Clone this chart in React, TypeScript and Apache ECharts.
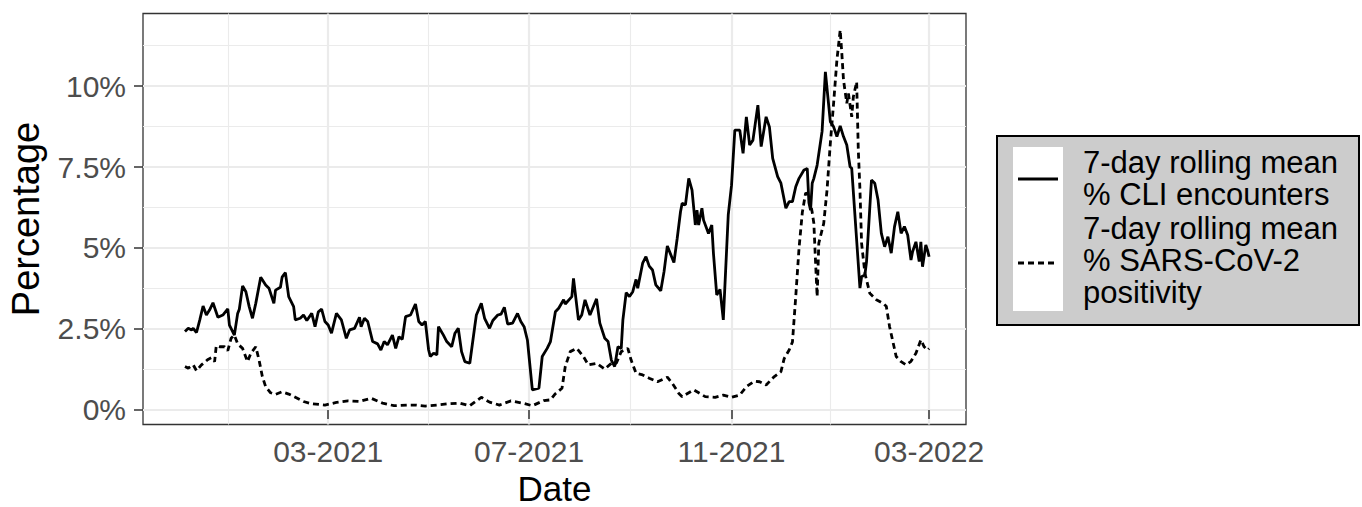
import React, { useEffect, useRef } from "react";
import * as echarts from "echarts";

// ---- Data ----
const cliDates = [
  "2020-12-04","2020-12-06","2020-12-08","2020-12-09","2020-12-11","2020-12-13","2020-12-15","2020-12-17","2020-12-19","2020-12-21",
  "2020-12-24","2020-12-27","2020-12-30","2020-12-31","2021-01-03","2021-01-05","2021-01-06","2021-01-08","2021-01-10","2021-01-12",
  "2021-01-14","2021-01-16","2021-01-19","2021-01-22","2021-01-24","2021-01-27","2021-01-28","2021-01-31","2021-02-01","2021-02-03",
  "2021-02-05","2021-02-08","2021-02-09","2021-02-12","2021-02-14","2021-02-16","2021-02-19","2021-02-21","2021-02-23","2021-02-25",
  "2021-02-27","2021-03-01","2021-03-03","2021-03-06","2021-03-09","2021-03-12","2021-03-14","2021-03-17","2021-03-20","2021-03-21",
  "2021-03-23","2021-03-25","2021-03-28","2021-03-31","2021-04-02","2021-04-04","2021-04-06","2021-04-09","2021-04-11","2021-04-13",
  "2021-04-15","2021-04-17","2021-04-20","2021-04-23","2021-04-25","2021-04-27","2021-04-29","2021-05-01","2021-05-02","2021-05-04",
  "2021-05-06","2021-05-07","2021-05-10","2021-05-12","2021-05-15","2021-05-17","2021-05-19","2021-05-21","2021-05-23","2021-05-26",
  "2021-05-29","2021-05-30","2021-06-02","2021-06-04","2021-06-07","2021-06-09","2021-06-12","2021-06-14","2021-06-16","2021-06-18",
  "2021-06-21","2021-06-24","2021-06-26","2021-06-28","2021-06-30","2021-07-03","2021-07-07","2021-07-09","2021-07-12","2021-07-14",
  "2021-07-17","2021-07-19","2021-07-22","2021-07-23","2021-07-27","2021-07-28","2021-07-31","2021-08-02","2021-08-04","2021-08-07",
  "2021-08-11","2021-08-13","2021-08-16","2021-08-18","2021-08-20","2021-08-22","2021-08-24","2021-08-26","2021-08-27","2021-08-29",
  "2021-08-31","2021-09-02","2021-09-04","2021-09-05","2021-09-08","2021-09-10","2021-09-12","2021-09-14","2021-09-16","2021-09-19",
  "2021-09-21","2021-09-23","2021-09-27","2021-09-29","2021-10-01","2021-10-02","2021-10-04","2021-10-06","2021-10-08","2021-10-10",
  "2021-10-11","2021-10-12","2021-10-14","2021-10-15","2021-10-18","2021-10-20","2021-10-21","2021-10-23","2021-10-25","2021-10-27",
  "2021-10-30","2021-11-01","2021-11-03","2021-11-06","2021-11-08","2021-11-10","2021-11-12","2021-11-14","2021-11-17","2021-11-19",
  "2021-11-22","2021-11-24","2021-11-26","2021-11-29","2021-12-01","2021-12-04","2021-12-06","2021-12-08","2021-12-10","2021-12-12",
  "2021-12-15","2021-12-17","2021-12-18","2021-12-19","2021-12-20","2021-12-21","2021-12-23","2021-12-26","2021-12-28","2021-12-31",
  "2022-01-02","2022-01-04","2022-01-06","2022-01-08","2022-01-10","2022-01-12","2022-01-13","2022-01-18","2022-01-19","2022-01-21",
  "2022-01-22","2022-01-25","2022-01-27","2022-01-29","2022-01-31","2022-02-02","2022-02-04","2022-02-06","2022-02-08","2022-02-10",
  "2022-02-12","2022-02-14","2022-02-16","2022-02-18","2022-02-19","2022-02-21","2022-02-23","2022-02-24","2022-02-25","2022-02-27",
  "2022-02-28","2022-03-01"
];
const cliValues = [
  2.42,2.52,2.47,2.52,2.39,2.78,3.21,2.93,3.09,3.31,
  2.86,2.93,3.12,2.62,2.31,2.98,3.11,3.83,3.65,3.19,
  2.83,3.29,4.10,3.86,3.76,3.29,3.70,3.79,4.10,4.24,
  3.50,3.19,2.78,2.83,2.93,2.76,2.98,2.57,3.03,3.11,
  2.73,2.62,2.37,2.98,2.78,2.21,2.47,2.52,2.86,2.57,
  2.83,2.73,2.11,2.04,1.85,2.11,2.01,2.31,1.90,2.26,
  2.18,2.88,2.93,3.27,2.73,2.62,2.73,1.85,1.65,1.75,
  1.70,2.57,2.31,2.11,1.95,2.37,2.52,1.80,1.49,1.44,
  2.57,2.93,3.29,2.83,2.52,2.76,2.93,2.96,3.17,2.65,
  2.68,2.98,2.73,2.57,2.16,0.62,0.67,1.65,1.90,2.11,
  3.03,3.14,3.40,3.27,3.50,4.06,2.78,2.93,3.40,2.93,
  3.43,2.68,2.21,2.11,1.54,1.34,1.95,1.90,2.78,3.62,
  3.50,3.65,4.03,3.76,4.53,4.73,4.44,4.32,3.86,3.68,
  4.27,5.06,4.55,5.30,6.12,6.38,6.33,7.15,6.79,5.71,
  6.17,5.71,6.23,5.86,5.45,5.71,4.84,3.55,3.72,2.78,
  6.02,6.94,8.64,8.64,7.92,9.05,8.18,8.33,9.41,8.13,
  9.05,8.74,7.77,7.20,7.00,6.23,6.43,6.43,6.89,7.15,
  7.41,7.45,6.40,6.17,7.00,7.15,7.56,8.60,10.44,8.90,
  8.74,8.44,8.77,8.44,8.18,7.51,7.46,3.76,4.11,4.17,
  4.58,7.10,7.00,6.48,5.45,5.04,5.35,4.84,5.66,6.12,
  5.45,5.66,5.40,4.63,4.89,5.19,4.58,5.19,4.42,5.09,
  4.94,4.73
];

const posDates = [
  "2020-12-04","2020-12-06","2020-12-09","2020-12-11","2020-12-14","2020-12-18","2020-12-20","2020-12-22","2020-12-23","2020-12-25",
  "2020-12-28","2020-12-30","2021-01-01","2021-01-03","2021-01-05","2021-01-08","2021-01-11","2021-01-13","2021-01-16","2021-01-18",
  "2021-01-20","2021-01-22","2021-01-25","2021-01-28","2021-02-01","2021-02-05","2021-02-09","2021-02-14","2021-02-19","2021-02-27",
  "2021-03-06","2021-03-13","2021-03-20","2021-03-27","2021-04-03","2021-04-10","2021-04-18","2021-04-23","2021-04-29","2021-05-06",
  "2021-05-13","2021-05-20","2021-05-26","2021-06-02","2021-06-07","2021-06-13","2021-06-20","2021-06-27","2021-07-03","2021-07-10",
  "2021-07-14","2021-07-17","2021-07-21","2021-07-23","2021-07-26","2021-07-30","2021-08-03","2021-08-06","2021-08-11","2021-08-16",
  "2021-08-20","2021-08-23","2021-08-26","2021-08-30","2021-09-01","2021-09-04","2021-09-08","2021-09-12","2021-09-17","2021-09-23",
  "2021-09-26","2021-09-30","2021-10-02","2021-10-09","2021-10-16","2021-10-22","2021-10-27","2021-11-01","2021-11-06","2021-11-10",
  "2021-11-15","2021-11-18","2021-11-22","2021-11-27","2021-12-01","2021-12-03","2021-12-06","2021-12-08","2021-12-10","2021-12-12",
  "2021-12-14","2021-12-16","2021-12-18","2021-12-20","2021-12-21","2021-12-22","2021-12-23","2021-12-24","2021-12-27","2021-12-29",
  "2021-12-31","2022-01-02","2022-01-04","2022-01-06","2022-01-07","2022-01-08","2022-01-10","2022-01-11","2022-01-13","2022-01-14",
  "2022-01-16","2022-01-17","2022-01-18","2022-01-19","2022-01-21","2022-01-24","2022-01-28","2022-02-01","2022-02-03","2022-02-05",
  "2022-02-09","2022-02-12","2022-02-15","2022-02-18","2022-02-21","2022-02-24","2022-02-26","2022-02-28","2022-03-01"
];
const posValues = [
  1.34,1.29,1.39,1.21,1.39,1.56,1.61,1.49,1.98,1.95,
  1.95,1.83,2.21,2.31,2.04,1.90,1.49,1.75,1.95,1.54,
  1.03,0.72,0.53,0.48,0.56,0.49,0.39,0.26,0.19,0.15,
  0.23,0.28,0.26,0.36,0.21,0.13,0.15,0.15,0.12,0.15,
  0.19,0.21,0.13,0.39,0.24,0.15,0.28,0.21,0.13,0.29,
  0.31,0.50,0.67,1.34,1.80,1.90,1.65,1.39,1.44,1.26,
  1.44,1.44,1.80,1.90,1.54,1.13,1.08,0.98,0.87,1.01,
  0.82,0.51,0.41,0.62,0.41,0.39,0.46,0.39,0.46,0.72,
  0.89,0.87,0.77,1.03,1.18,1.59,1.85,2.10,3.50,5.00,
  6.10,6.70,6.65,6.10,5.76,4.60,3.50,5.15,5.76,6.79,
  8.23,9.47,10.80,11.73,11.00,10.19,9.47,9.77,9.05,9.67,
  10.13,8.02,6.80,5.14,4.22,3.60,3.40,3.29,3.20,2.57,
  1.65,1.49,1.39,1.50,1.75,2.16,1.95,1.85,1.90
];

const yMajorTicks = [0, 2.5, 5, 7.5, 10];
const yMinorTicks = [1.25, 3.75, 6.25, 8.75, 11.25];
const xMajorTicks = ["2021-03-01", "2021-07-01", "2021-11-01", "2022-03-01"];
const xMinorTicks = ["2020-12-30", "2021-05-01", "2021-08-31T12:00:00", "2021-12-31"];
const seriesNames = ["7-day rolling mean % CLI encounters", "7-day rolling mean % SARS-CoV-2 positivity"];
const legendLines = [
  ["7-day rolling mean", "% CLI encounters"],
  ["7-day rolling mean", "% SARS-CoV-2", "positivity"],
];

const toTs = (s: string) => Date.parse(s.length === 10 ? s + "T00:00:00Z" : s + "Z");
const FONT = "'Liberation Sans', Arial, Helvetica, sans-serif";

export default function App() {
  const ref = useRef<HTMLDivElement>(null);
  useEffect(() => {
    if (!ref.current) return;
    const chart = echarts.init(ref.current, undefined, { renderer: "svg" });
    const xMin = Date.UTC(2020, 10, 8, 12);
    const xMax = Date.UTC(2022, 2, 23, 10);
    const yMin = -0.45;
    const yMax = 12.24;
    const xMaj = xMajorTicks.map(toTs);
    const xMin2 = xMinorTicks.map(toTs);
    const fmtDate = (v: number) => {
      const d = new Date(v);
      const m = d.getUTCMonth() + 1;
      return (m < 10 ? "0" + m : "" + m) + "-" + d.getUTCFullYear();
    };
    const cliData = cliDates.map((d, i) => [toTs(d), cliValues[i]]);
    const posData = posDates.map((d, i) => [toTs(d), posValues[i]]);

    const fontSizeLegend = 31;
    const lineHeight = 32;
    const legendGraphics: any[] = [
      { type: "rect", z: 10, shape: { x: 997, y: 136, width: 362, height: 189 }, style: { fill: "#CCCCCC", stroke: "#000", lineWidth: 2 } },
      { type: "rect", z: 11, shape: { x: 1013, y: 147, width: 50, height: 164 }, style: { fill: "#FFFFFF" } },
      { type: "line", z: 12, shape: { x1: 1018, y1: 179, x2: 1058, y2: 179 }, style: { stroke: "#000", lineWidth: 2.8 } },
      { type: "line", z: 12, shape: { x1: 1018, y1: 263, x2: 1058, y2: 263 }, style: { stroke: "#000", lineWidth: 2.8, lineDash: [6, 4] } },
    ];
    const itemCenters = [178, 260];
    legendLines.forEach((lines, k) => {
      legendGraphics.push({
        type: "text",
        z: 12,
        x: 1083,
        y: itemCenters[k],
        style: {
          text: lines.join("\n"), fill: "#000", fontSize: fontSizeLegend, fontFamily: FONT,
          lineHeight, textVerticalAlign: "middle", textAlign: "left",
        },
      });
    });

    chart.setOption({
      animation: false,
      backgroundColor: "#FFFFFF",
      grid: {
        left: 143, top: 13.5, width: 823, height: 411,
        containLabel: false, outerBoundsMode: "none",
        show: true, borderColor: "#333333", borderWidth: 1.3, backgroundColor: "#FFFFFF",
      },
      xAxis: [
        {
          type: "value", min: xMin, max: xMax, position: "bottom",
          name: "Date", nameLocation: "middle", nameGap: 40,
          nameTextStyle: { fontSize: 35, lineHeight: 35, color: "#000", fontFamily: FONT },
          axisLine: { show: false },
          axisTick: { show: true, length: 9, lineStyle: { color: "#333333", width: 1.5 }, customValues: xMaj },
          axisLabel: { customValues: xMaj, formatter: (v: number) => fmtDate(v), fontSize: 30, color: "#4D4D4D", margin: 12, fontFamily: FONT },
          splitLine: { show: true, lineStyle: { color: "#EBEBEB", width: 2.2 } },
        },
        {
          type: "value", min: xMin, max: xMax, position: "bottom",
          axisLine: { show: false },
          axisTick: { show: false, customValues: xMin2 },
          axisLabel: { show: false, customValues: xMin2 },
          splitLine: { show: true, lineStyle: { color: "#EBEBEB", width: 1.1 } },
        },
      ],
      yAxis: [
        {
          type: "value", min: yMin, max: yMax,
          name: "Percentage", nameLocation: "middle", nameGap: 98,
          nameTextStyle: { fontSize: 38, color: "#000", fontFamily: FONT },
          axisLine: { show: false },
          axisTick: { show: true, length: 9, lineStyle: { color: "#333333", width: 1.5 }, customValues: yMajorTicks },
          axisLabel: { customValues: yMajorTicks, formatter: (v: number) => v + "%", fontSize: 30, color: "#4D4D4D", margin: 17, fontFamily: FONT },
          splitLine: { show: true, lineStyle: { color: "#EBEBEB", width: 2.2 } },
        },
        {
          type: "value", min: yMin, max: yMax, position: "left",
          axisLine: { show: false },
          axisTick: { show: false, customValues: yMinorTicks },
          axisLabel: { show: false, customValues: yMinorTicks },
          splitLine: { show: true, lineStyle: { color: "#EBEBEB", width: 1.1 } },
        },
      ],
      series: [
        {
          name: seriesNames[0], type: "line", xAxisIndex: 0, yAxisIndex: 0,
          data: cliData, showSymbol: false, symbol: "none",
          lineStyle: { color: "#000", width: 2.8, type: "solid" }, z: 3,
        },
        {
          name: seriesNames[1], type: "line", xAxisIndex: 0, yAxisIndex: 0,
          data: posData, showSymbol: false, symbol: "none",
          lineStyle: { color: "#000", width: 2.8, type: [6, 4] }, z: 4,
        },
      ],
      graphic: legendGraphics,
    });
    return () => chart.dispose();
  }, []);
  return <div ref={ref} style={{ position: "fixed", left: 0, top: 0, width: 1362, height: 507 }} />;
}
